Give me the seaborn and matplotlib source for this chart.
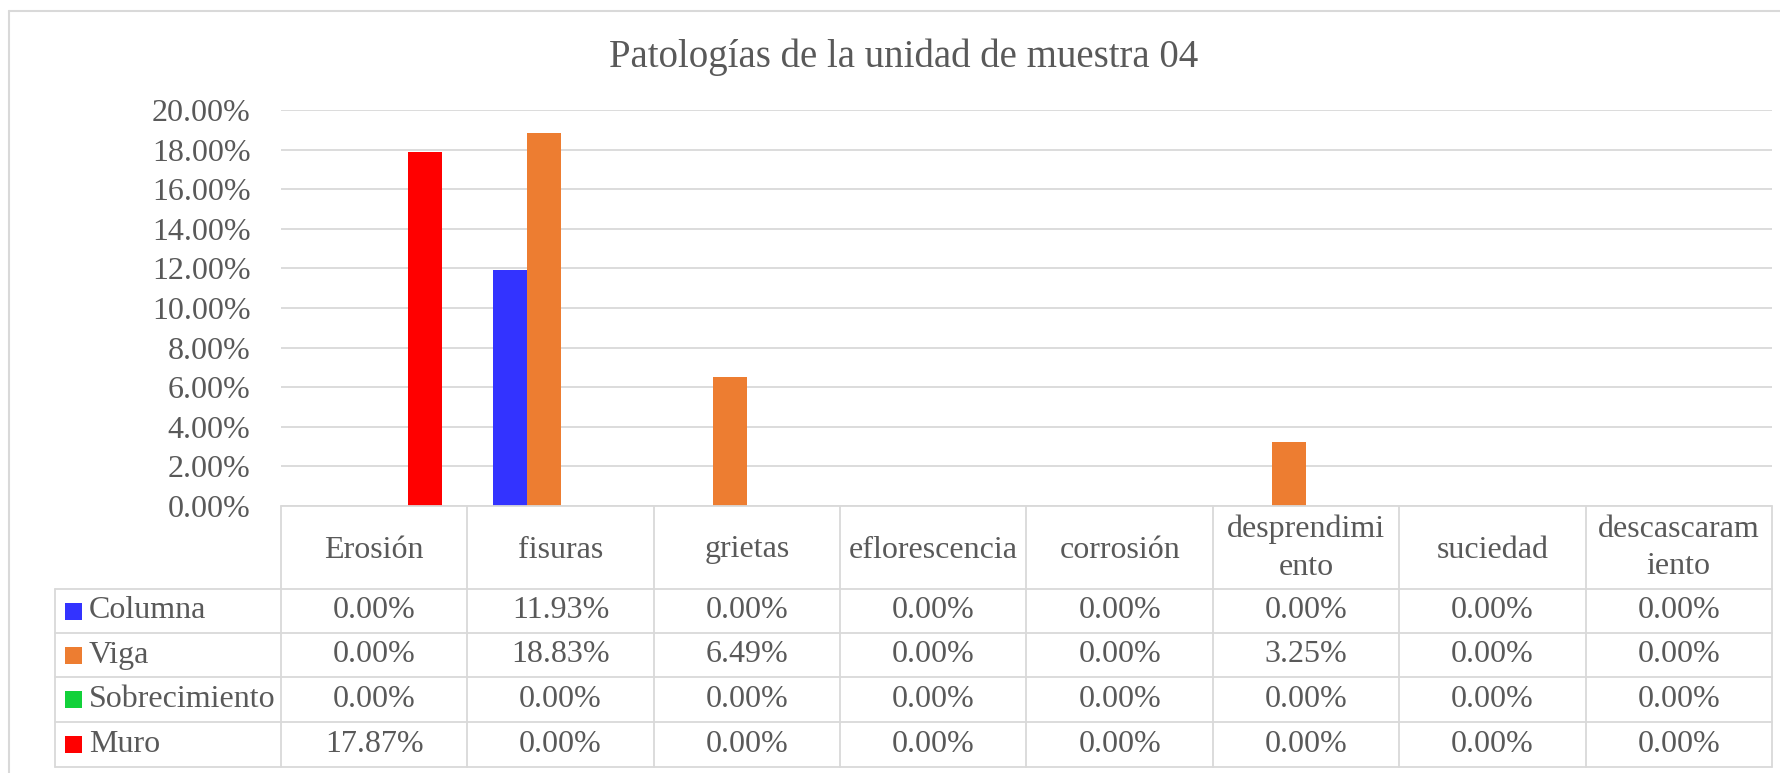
import numpy as np
import pandas as pd
import seaborn as sns
import matplotlib
matplotlib.use("Agg")
import matplotlib.pyplot as plt
from matplotlib.transforms import blended_transform_factory
from matplotlib.lines import Line2D
from matplotlib.patches import Rectangle

# ---------------- data ----------------
title = "Patologías de la unidad de muestra 04"
categories = ["Erosión", "fisuras", "grietas", "eflorescencia", "corrosión",
              "desprendimiento", "suciedad", "descascaramiento"]
category_labels = ["Erosión", "fisuras", "grietas", "eflorescencia", "corrosión",
                   "desprendimi\nento", "suciedad", "descascaram\niento"]
series = ["Columna", "Viga", "Sobrecimiento", "Muro"]
columna = [0.00, 11.93, 0.00, 0.00, 0.00, 0.00, 0.00, 0.00]
viga = [0.00, 18.83, 6.49, 0.00, 0.00, 3.25, 0.00, 0.00]
sobrecimiento = [0.00, 0.00, 0.00, 0.00, 0.00, 0.00, 0.00, 0.00]
muro = [17.87, 0.00, 0.00, 0.00, 0.00, 0.00, 0.00, 0.00]
y_ticks = [0, 2, 4, 6, 8, 10, 12, 14, 16, 18, 20]
colors = ["#3333FF", "#ED7D31", "#12D13A", "#FF0000"]

values = {"Columna": columna, "Viga": viga, "Sobrecimiento": sobrecimiento, "Muro": muro}
df = pd.DataFrame([
    {"cat": c, "serie": s, "val": values[s][i]}
    for s in series for i, c in enumerate(categories)
])

# ---------------- style ----------------
sns.set_theme(style="white")
plt.rcParams["font.family"] = ["Liberation Serif", "DejaVu Serif"]
TXT = "#595959"
GRID = "#D9D9D9"
FS = 23

W, H = 1781, 773
fig = plt.figure(figsize=(W / 100, H / 100), dpi=100)

def fy(px):
    return 1 - px / H

def fx(px):
    return px / W

ax_left, ax_right = 281, 1772
ax_top, ax_bot = 110, 506
ax = fig.add_axes([fx(ax_left), fy(ax_bot), fx(ax_right) - fx(ax_left), (ax_bot - ax_top) / H])

sns.barplot(data=df, x="cat", y="val", hue="serie", order=categories, hue_order=series,
            palette=colors, width=0.73, saturation=1, linewidth=0, legend=False,
            errorbar=None, ax=ax)

ax.set_xlim(-0.5, len(categories) - 0.5)
ax.set_ylim(0, 20)
ax.set_yticks(y_ticks)
ax.set_yticklabels([f"{t:.2f}%" for t in y_ticks], color=TXT, fontsize=FS)
ax.set_xticks([])
ax.set_xlabel("")
ax.set_ylabel("")
ax.tick_params(axis="y", length=0, pad=22)
for sp in ax.spines.values():
    sp.set_visible(False)
ax.yaxis.grid(True, color=GRID, linewidth=1.3)
ax.set_axisbelow(True)

# title
fig.text(fx(904), fy(57), title, ha="center", va="center", fontsize=28, color=TXT)

# ---------------- data table ----------------
trans = blended_transform_factory(ax.transData, fig.transFigure)
row_lines = [506, 589, 633, 677, 722, 767]
leg_left = 55
lw = 1.3

# horizontal lines
fig.add_artist(Line2D([fx(ax_left), fx(ax_right)], [fy(506), fy(506)], color=GRID, lw=lw,
                      transform=fig.transFigure))
for y in row_lines[1:]:
    fig.add_artist(Line2D([fx(leg_left), fx(ax_right)], [fy(y), fy(y)], color=GRID, lw=lw,
                          transform=fig.transFigure))
# vertical lines
fig.add_artist(Line2D([fx(leg_left), fx(leg_left)], [fy(589), fy(767)], color=GRID, lw=lw,
                      transform=fig.transFigure))
for i in range(len(categories) + 1):
    x = i - 0.5
    fig.add_artist(Line2D([x, x], [fy(506), fy(767)], color=GRID, lw=lw, transform=trans))

# header labels
for i, lab in enumerate(category_labels):
    yc = 550 if "\n" not in lab else 548
    fig.text(i, fy(yc), lab, transform=trans, ha="center", va="center",
             fontsize=FS, color=TXT, linespacing=1.4)

# rows
for r, s in enumerate(series):
    ymid_px = (row_lines[r + 1] + row_lines[r + 2]) / 2
    yc = fy(ymid_px)
    fig.add_artist(Rectangle((fx(65), fy(ymid_px + 8.5)), 17 / W, 17 / H,
                             facecolor=colors[r], edgecolor="none", transform=fig.transFigure))
    fig.text(fx(89), yc, s, ha="left", va="center", fontsize=FS, color=TXT)
    for i in range(len(categories)):
        fig.text(i, yc, f"{values[s][i]:.2f}%", transform=trans, ha="center", va="center",
                 fontsize=FS, color=TXT)

# outer chart border (partially visible)
fig.add_artist(Line2D([fx(9), fx(9)], [fy(11), 0], color=GRID, lw=1.5, transform=fig.transFigure))
fig.add_artist(Line2D([fx(9), 1], [fy(11), fy(11)], color=GRID, lw=1.5, transform=fig.transFigure))

fig.savefig("out.png", dpi=100, facecolor="white")
